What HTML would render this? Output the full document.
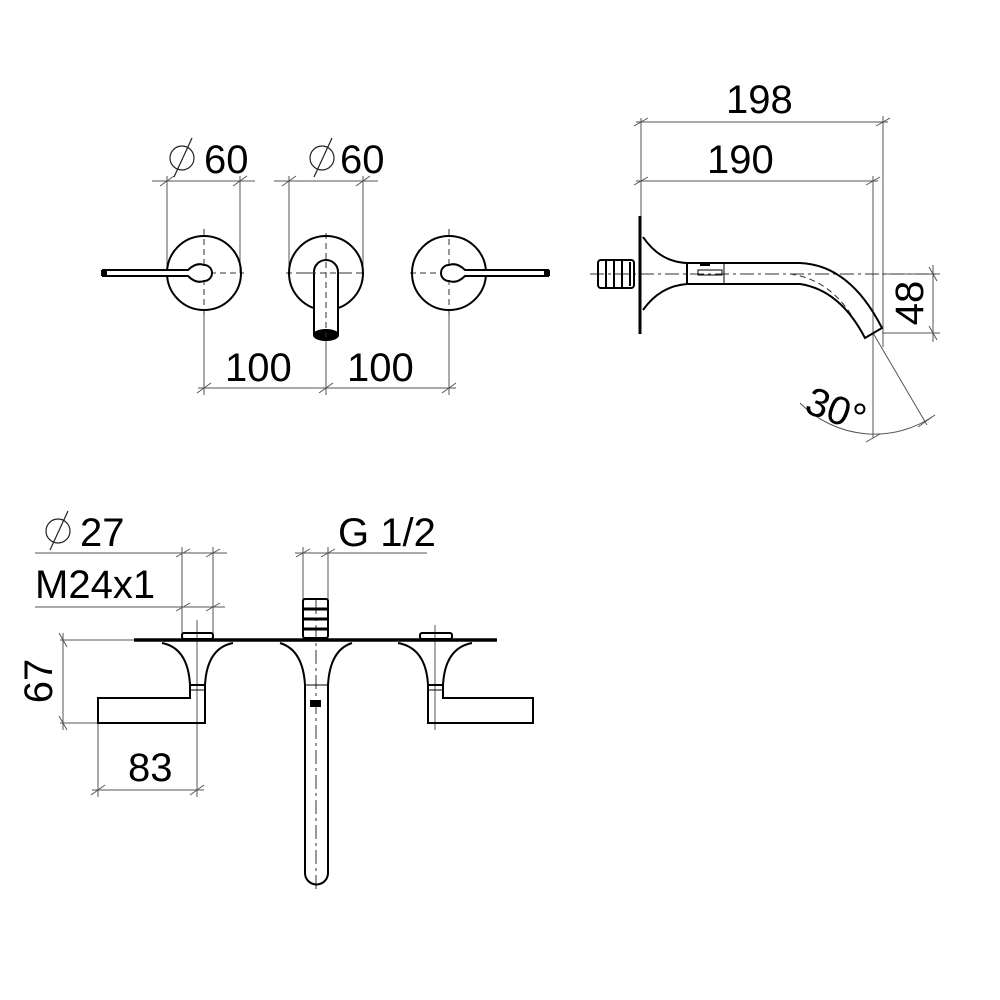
<!DOCTYPE html>
<html><head><style>html,body{margin:0;padding:0;background:#fff}svg{display:block}</style></head>
<body>
<svg width="1000" height="1000" viewBox="0 0 1000 1000" xmlns="http://www.w3.org/2000/svg" font-family="Liberation Sans, sans-serif" font-size="40" fill="none" stroke="#000">
<g stroke-width="1" stroke="#555">
<line x1="152" y1="181" x2="255" y2="181"/><line x1="167" y1="176" x2="167" y2="273"/><line x1="240" y1="176" x2="240" y2="273"/>
<line x1="274" y1="181" x2="378" y2="181"/><line x1="289" y1="176" x2="289" y2="273"/><line x1="363" y1="176" x2="363" y2="273"/>
<line x1="160" y1="186" x2="174" y2="176"/><line x1="233" y1="186" x2="247" y2="176"/><line x1="282" y1="186" x2="296" y2="176"/><line x1="356" y1="186" x2="370" y2="176"/>
<line x1="204" y1="309" x2="204" y2="395"/><line x1="326" y1="337" x2="326" y2="395"/><line x1="449" y1="309" x2="449" y2="395"/>
<line x1="198" y1="388" x2="456" y2="388"/>
<line x1="197" y1="393" x2="211" y2="383"/><line x1="319" y1="393" x2="333" y2="383"/><line x1="442" y1="393" x2="456" y2="383"/>
<line x1="641" y1="118" x2="641" y2="217"/>
<line x1="636" y1="122" x2="888" y2="122"/><line x1="883" y1="116" x2="883" y2="347"/>
<line x1="636" y1="181" x2="878" y2="181"/><line x1="873" y1="176" x2="873" y2="438"/>
<line x1="634" y1="126" x2="648" y2="118"/><line x1="876" y1="126" x2="890" y2="118"/>
<line x1="634" y1="185" x2="648" y2="177"/><line x1="866" y1="185" x2="880" y2="177"/>
<line x1="882" y1="274" x2="940" y2="274"/><line x1="882" y1="333" x2="940" y2="333"/>
<line x1="933" y1="265" x2="933" y2="342"/>
<line x1="929" y1="267" x2="937" y2="281"/><line x1="929" y1="326" x2="937" y2="340"/>
<line x1="873" y1="333" x2="927" y2="425"/>
<path d="M800 403 A105 105 0 0 0 935 415"/>
<line x1="866" y1="442" x2="880" y2="434"/><line x1="918" y1="427" x2="932" y2="417"/>
<line x1="35" y1="553" x2="227" y2="553"/><line x1="35" y1="607" x2="225" y2="607"/>
<line x1="182" y1="547" x2="182" y2="634"/><line x1="213" y1="547" x2="213" y2="634"/>
<line x1="176" y1="557" x2="190" y2="549"/><line x1="206" y1="557" x2="220" y2="549"/>
<line x1="176" y1="611" x2="190" y2="603"/><line x1="206" y1="611" x2="220" y2="603"/>
<line x1="295" y1="553" x2="427" y2="553"/><line x1="303" y1="547" x2="303" y2="600"/><line x1="328" y1="547" x2="328" y2="600"/>
<line x1="296" y1="557" x2="310" y2="549"/><line x1="321" y1="557" x2="335" y2="549"/>
<line x1="60" y1="640" x2="134" y2="640"/><line x1="60" y1="723" x2="98" y2="723"/>
<line x1="63" y1="633" x2="63" y2="730"/>
<line x1="59" y1="633" x2="67" y2="647"/><line x1="59" y1="716" x2="67" y2="730"/>
<line x1="98" y1="723" x2="98" y2="797"/><line x1="197" y1="620" x2="197" y2="797"/>
<line x1="92" y1="790" x2="204" y2="790"/>
<line x1="91" y1="795" x2="105" y2="785"/><line x1="190" y1="795" x2="204" y2="785"/>
<line x1="435" y1="625" x2="435" y2="730"/>
</g>
<g stroke-width="1" stroke="#333" stroke-dasharray="6,4">
<line x1="160" y1="273" x2="244" y2="273"/><line x1="204" y1="229" x2="204" y2="317"/>
<line x1="286" y1="273" x2="366" y2="273"/><line x1="326" y1="233" x2="326" y2="262"/>
<line x1="410" y1="273" x2="490" y2="273"/><line x1="449" y1="229" x2="449" y2="317"/>
<line x1="590" y1="274" x2="940" y2="274" stroke-dasharray="14,4,3,4"/>
<path d="M790 274 Q835 280 860 330"/>
<line x1="316" y1="600" x2="316" y2="890" stroke-dasharray="14,4,3,4"/>
</g>
<g stroke-width="2">
<circle cx="204" cy="273" r="37"/><circle cx="326" cy="273" r="37"/><circle cx="449" cy="273" r="37"/>
<path d="M103 270 L188 270 Q196 262 204 265 A8 8 0 0 1 204 281 Q196 284 188 276 L103 276 Z" fill="#fff"/>
<path d="M548 270 L465 270 Q457 262 449 265 A8 8 0 0 0 449 281 Q457 284 465 276 L548 276 Z" fill="#fff"/>
<rect x="101" y="270" width="6" height="6" fill="#000" stroke="none"/><rect x="544" y="270" width="6" height="6" fill="#000" stroke="none"/>
<path d="M314 335 L314 272 A12 12 0 0 1 338 272 L338 335" fill="#fff"/>
<ellipse cx="326" cy="335" rx="12" ry="5" fill="#000"/>
</g>
<g stroke="#333" stroke-width="1" stroke-dasharray="6,4"><line x1="326" y1="262" x2="326" y2="337"/><line x1="300" y1="273" x2="352" y2="273"/></g>
<g stroke-width="2">
<line x1="640" y1="216" x2="640" y2="334" stroke-width="3"/>
<rect x="598" y="260" width="36" height="28" rx="3"/>
<line x1="606" y1="260" x2="606" y2="288"/><line x1="614" y1="260" x2="614" y2="288"/><line x1="622" y1="260" x2="622" y2="288"/><line x1="630" y1="262" x2="630" y2="286"/>
<path d="M643 237 Q660 262 687 263 L800 263 Q850 265 882 328 L865 338 Q840 290 800 284 L687 284 Q660 286 643 310"/>
<line x1="687" y1="263" x2="687" y2="284"/>
<line x1="724" y1="263" x2="724" y2="284" stroke-width="1"/>
<rect x="698" y="270" width="24" height="5" stroke-width="1"/>
<rect x="700" y="263" width="10" height="3" fill="#000" stroke="none"/>
</g>
<g stroke-width="2">
<line x1="134" y1="640" x2="497" y2="640" stroke-width="3.5"/>
<rect x="182" y="633" width="31" height="6" rx="2"/>
<rect x="420" y="633" width="32" height="6" rx="2"/>
<rect x="303" y="599" width="25" height="39" rx="2"/>
<line x1="303" y1="609" x2="328" y2="609" stroke-width="3"/><line x1="303" y1="619" x2="328" y2="619" stroke-width="3"/><line x1="303" y1="629" x2="328" y2="629" stroke-width="3"/>
<path d="M162 643 Q188 648 190 685 L205 685 Q207 648 233 643"/>
<path d="M190 685 L190 698 L98 698 L98 723 L205 723 L205 685"/>
<line x1="190" y1="690" x2="205" y2="690" stroke-width="1"/>
<path d="M280 643 Q303 650 305 685 L305 873 A11.5 11.5 0 0 0 328 873 L328 685 Q330 650 352 643"/>
<line x1="305" y1="685" x2="328" y2="685" stroke-width="1"/>
<rect x="310" y="700" width="11" height="7" fill="#000" stroke="none"/>
<path d="M398 643 Q426 648 428 685 L443 685 Q445 648 472 643"/>
<path d="M428 685 L428 723 L533 723 L533 698 L443 698 L443 685"/>
<line x1="428" y1="690" x2="443" y2="690" stroke-width="1"/>
</g>
<g fill="#000" stroke="none">
<text x="204" y="173">60</text><text x="340" y="173">60</text>
<text x="225" y="381">100</text><text x="347" y="381">100</text>
<text x="726" y="113">198</text><text x="707" y="173">190</text>
<text transform="translate(923 303) rotate(-90)" text-anchor="middle">48</text>
<text transform="translate(803 412) rotate(20)">30°</text>
<text x="80" y="546">27</text>
<text x="35" y="598">M24x1</text>
<text x="338" y="546">G 1/2</text>
<text transform="translate(52 681) rotate(-90)" text-anchor="middle">67</text>
<text x="128" y="781">83</text>
</g>
<g stroke-width="1.2" stroke="#222">
<circle cx="182" cy="158" r="12"/><line x1="174" y1="177" x2="192" y2="138"/>
<circle cx="322" cy="158" r="12"/><line x1="314" y1="177" x2="332" y2="138"/>
<circle cx="58" cy="531" r="12"/><line x1="50" y1="550" x2="68" y2="511"/>
</g>
</svg>
</body></html>
